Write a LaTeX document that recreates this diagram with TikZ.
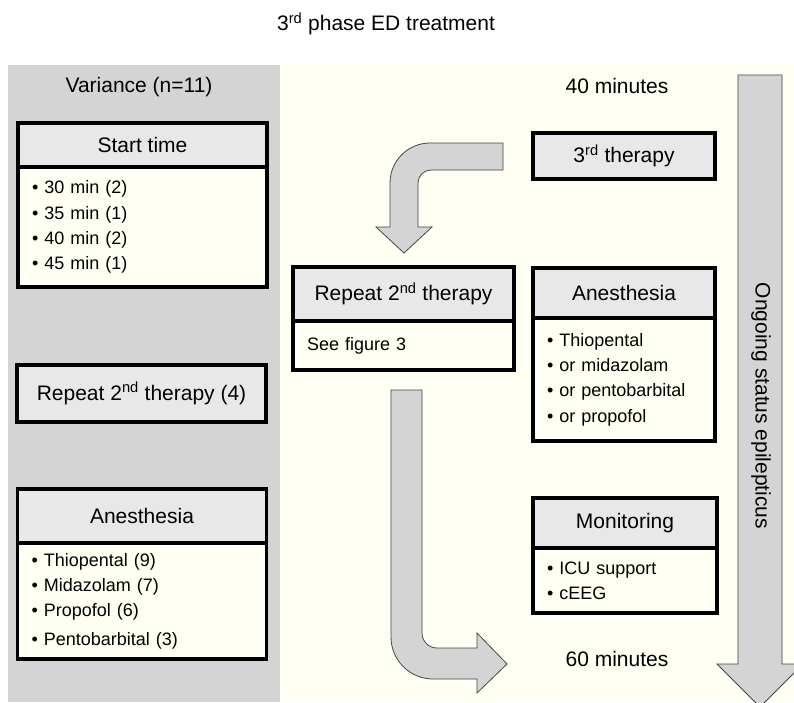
\documentclass[tikz,border=0pt]{standalone}
\usepackage{fontspec}
\setmainfont{Liberation Sans}
\usetikzlibrary{positioning}
\definecolor{panelgrey}{RGB}{212,212,212}
\definecolor{panelcream}{RGB}{255,255,243}
\definecolor{headgrey}{RGB}{232,232,232}
\definecolor{arrowgrey}{RGB}{212,212,212}
\definecolor{arrowedge}{RGB}{70,70,70}
\newcommand{\headfont}{\fontsize{21}{25}\selectfont}
\newcommand{\listfont}{\fontsize{18}{25.3}\selectfont}

\begin{document}
\begin{tikzpicture}[x=1pt, y=-1pt,
  headbox/.style={draw, line width=3.5pt, fill=headgrey, font=\headfont, inner sep=0pt, outer sep=0pt},
  listbox/.style={draw, line width=3.5pt, fill=panelcream, font=\listfont, align=left, inner xsep=14pt, inner ysep=0pt, outer sep=0pt},
  blockarrow/.style={fill=arrowgrey, draw=arrowedge, line width=0.8pt},
  plaintext/.style={font=\headfont}]
  \clip (0,0) rectangle (794,702);
  \fill[white] (0,0) rectangle (794,702);
  % panels
  \fill[panelgrey] (8,65) rectangle (280,702);
  \fill[panelcream] (280,64) rectangle (794,702);
  \node[plaintext] (title) at (386,24) {3\textsuperscript{rd} phase ED treatment};
  \node[plaintext] (variance) at (139,87) {Variance (n=11)};
  \node[plaintext] (t40) at (617,86) {40 minutes};
  \node[plaintext] (t60) at (617,659) {60 minutes};

  % block arrows
  \draw[blockarrow] (738,75) -- (738,664) -- (717,664) -- (760,707) -- (803,664) -- (782,664) -- (782,75) -- cycle;
  \node[plaintext, rotate=-90] (ongoing) at (761,406) {Ongoing status epilepticus};
  \draw[blockarrow] (503,143) -- (430,143) arc[start angle=270, end angle=180, radius=40]
    -- (390,227) -- (376,227) -- (404,253) -- (432,227) -- (418,227) -- (418,183)
    arc[start angle=180, end angle=270, radius=13] -- (503,170) -- cycle;
  \draw[blockarrow] (391,390) -- (391,637) arc[start angle=180, end angle=90, radius=42]
    -- (477,679) -- (477,693) -- (507,664) -- (477,633) -- (477,648) -- (437,648)
    arc[start angle=90, end angle=180, radius=15] -- (422,390) -- cycle;

  % variance column
  \node[headbox, minimum width=249, minimum height=44] (start) at (142.5,145) {Start time};
  \node[listbox, below=0pt of start, minimum width=249, minimum height=120, text width=221]
    (startlist) {• 30 min (2)\\• 35 min (1)\\• 40 min (2)\\• 45 min (1)};
  \node[headbox, minimum width=249, minimum height=57] (repeatvar) at (141.5,393.5)
    {Repeat 2\textsuperscript{nd} therapy (4)};
  \node[headbox, minimum width=249, minimum height=54] (anesvar) at (142,516) {Anesthesia};
  \node[listbox, below=0pt of anesvar, minimum width=249, minimum height=116, text width=221]
    (anesvarlist) {• Thiopental (9)\\• Midazolam (7)\\• Propofol (6)\\[3pt]• Pentobarbital (3)};

  % protocol column
  \node[headbox, minimum width=221, minimum height=54] (repeat) at (403.5,294) {Repeat 2\textsuperscript{nd} therapy};
  \node[listbox, below=0pt of repeat, minimum width=221, minimum height=49, text width=193]
    (repeatlist) {See figure 3};
  \node[headbox, minimum width=182, minimum height=46] (third) at (624,156) {3\textsuperscript{rd} therapy};
  \node[headbox, minimum width=182, minimum height=50] (anes) at (624,293) {Anesthesia};
  \node[listbox, below=0pt of anes, minimum width=182, minimum height=123, text width=154]
    (aneslist) {• Thiopental\\• or midazolam\\• or pentobarbital\\• or propofol};
  \node[headbox, minimum width=184, minimum height=50] (monitor) at (625,523) {Monitoring};
  \node[listbox, below=0pt of monitor, minimum width=184, minimum height=65, text width=156]
    (monitorlist) {• ICU support\\• cEEG};
\end{tikzpicture}
\end{document}
